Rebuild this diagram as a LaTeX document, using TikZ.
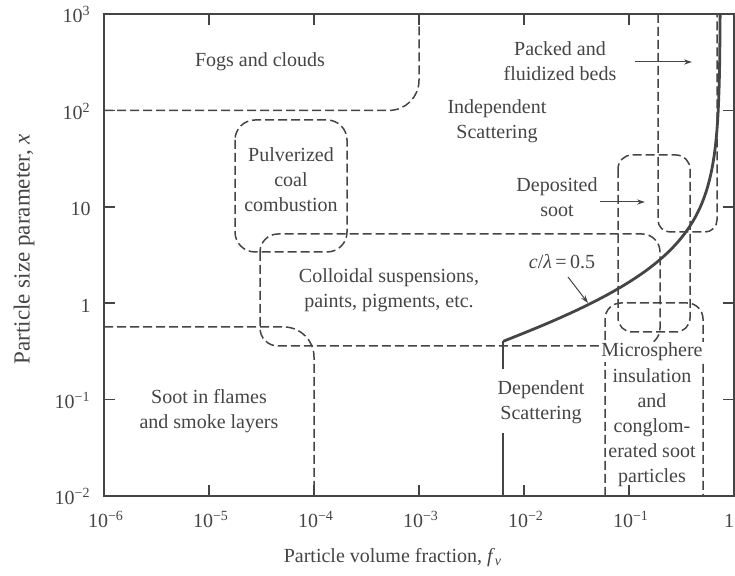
\documentclass[tikz,border=0pt]{standalone}
\usepackage{fontspec}
\setmainfont{Liberation Serif}
\usetikzlibrary{arrows.meta}
\definecolor{ink}{gray}{0.27}
\begin{document}
\begin{tikzpicture}[x=0.5pt,y=-0.5pt,
  every node/.style={text=ink, font=\fontsize{10}{12.5}\selectfont, inner sep=0pt},
  regiontext/.style={align=center},
  axisline/.style={draw=ink, line width=0.9pt},
  tickmark/.style={draw=ink, line width=0.8pt},
  bound/.style={draw=ink, line width=0.75pt, dash pattern=on 4.5pt off 2pt},
  criterion/.style={draw=ink, line width=1.4pt},
  depline/.style={draw=ink, line width=1pt},
  pointer/.style={draw=ink, line width=0.5pt, -{Stealth[length=4pt,width=2.6pt]}},
  ticklabel/.style={font=\fontsize{10}{12}\selectfont}]
\useasboundingbox (0,0) rectangle (735,576);
\fill[white] (0,0) rectangle (735,576);

% axes box
\draw[axisline] (104,14) rectangle (734,496);
\foreach \yy in {110.4,206.8,303.2,399.6} {
  \draw[tickmark] (104,\yy) -- (115,\yy);
  \draw[tickmark] (734,\yy) -- (723,\yy);
}
\foreach \xx in {209,314,419,524,629} {
  \draw[tickmark] (\xx,496) -- (\xx,485);
  \draw[tickmark] (\xx,14) -- (\xx,25);
}

% y tick labels
\node[ticklabel, anchor=base east] (y3) at (91,23) {10\textsuperscript{3}};
\node[ticklabel, anchor=base east] (y2) at (91,119.4) {10\textsuperscript{2}};
\node[ticklabel, anchor=base east] (y1) at (91,215.8) {10};
\node[ticklabel, anchor=base east] (y0) at (91,312.2) {1};
\node[ticklabel, anchor=base east] (ym1) at (91,408.6) {10\textsuperscript{−1}};
\node[ticklabel, anchor=base east] (ym2) at (91,505) {10\textsuperscript{−2}};
% x tick labels
\node[ticklabel, anchor=base] (xm6) at (106,528) {10\textsuperscript{−6}};
\node[ticklabel, anchor=base] (xm5) at (211,528) {10\textsuperscript{−5}};
\node[ticklabel, anchor=base] (xm4) at (316,528) {10\textsuperscript{−4}};
\node[ticklabel, anchor=base] (xm3) at (421,528) {10\textsuperscript{−3}};
\node[ticklabel, anchor=base east] (x0) at (734.5,528) {1};
\node[ticklabel, anchor=base] (xm2) at (526,528) {10\textsuperscript{−2}};
\node[ticklabel, anchor=base] (xm1) at (631,528) {10\textsuperscript{−1}};

% axis titles
\node (xtitle) at (393,558) {Particle volume fraction, \textit{f}\textsubscript{\textit{v}}};
\node[rotate=90, font=\fontsize{11.5}{13}\selectfont] (ytitle) at (24,249) {Particle size parameter, \textit{x}};

% regime boundaries
\draw[bound, rounded corners=15pt] (104,110.4) -- (419,110.4) -- (419,14);
\draw[bound, rounded corners=10pt] (235,120) rectangle (347,252);
\draw[bound, rounded corners=9pt] (260,234) rectangle (660,346);
\draw[bound, rounded corners=15pt] (104,327) -- (314,327) -- (314,496);
\draw[bound, rounded corners=6pt] (658,14) -- (658,232) -- (717,232) -- (717,14);
\draw[bound, rounded corners=7pt] (618,155) rectangle (690,332);
\draw[bound, rounded corners=8pt] (605,496) -- (605,303) -- (703,303) -- (703,496);

% c/lambda = 0.5 criterion
\coordinate (cstart) at (502.9,341.3);
\draw[criterion] plot[domain=-0.3947:3, samples=120, variable=\t]
  ({104+105*(6+3*log10(0.905/(1+1.5708*exp(-2.302585*\t))))}, {496-96.4*(\t+2)});
\coordinate (depa) at (502.9,369);
\coordinate (depb) at (502.9,433);
\coordinate (depc) at (502.9,496);
\draw[depline] (cstart) -- (depa);
\draw[depline] (depb) -- (depc);

% region texts
\node[regiontext] (fogs) at (260,62) {Fogs and clouds};
\node[regiontext] (packed) at (560,61) {Packed and\\fluidized beds};
\node[regiontext] (indep) at (497,121) {Independent\\Scattering};
\node[regiontext] (pulv) at (291,180) {Pulverized\\coal\\combustion};
\node[regiontext] (depo) at (557,197) {Deposited\\soot};
\node[regiontext] (coll) at (389,290) {Colloidal suspensions,\\paints, pigments, etc.};
\node[regiontext] (clam) at (562,262) {\textit{c}/\textit{λ}\,=\,0.5};
\node[regiontext] (depend) at (541,402) {Dependent\\Scattering};
\node[regiontext, fill=white, inner sep=0.6pt] (micro) at (652,352) {Microsphere};
\node[regiontext] (micro2) at (652,428) {insulation\\and\\conglom-\\erated soot\\particles};
\node[regiontext] (soot) at (209,411) {Soot in flames\\and smoke layers};

% pointers
\coordinate (pka) at (635,62);
\coordinate (pkb) at (692,62);
\draw[pointer] (pka) -- (pkb);
\coordinate (dsa) at (600,202);
\coordinate (dsb) at (645,202);
\draw[pointer] (dsa) -- (dsb);
\coordinate (cla) at (568,277);
\coordinate (clb) at (588,303);
\draw[pointer] (cla) -- (clb);
\end{tikzpicture}
\end{document}
